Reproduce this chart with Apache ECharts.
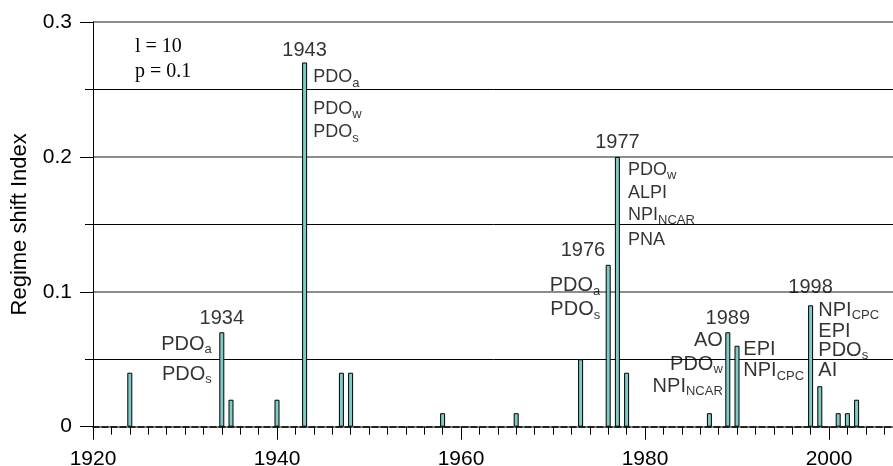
<!DOCTYPE html>
<html>
<head>
<meta charset="utf-8">
<script src="https://cdn.jsdelivr.net/npm/echarts@6/dist/echarts.min.js"></script>
<style>
html,body{margin:0;padding:0;background:#fff;}
#chart{width:893px;height:466px;}
</style>
</head>
<body>
<div id="chart"></div>
<script>
// ---- data ----
const years  = [1924, 1934, 1935, 1940, 1943, 1947, 1948, 1958, 1966, 1973, 1976, 1977, 1978, 1987, 1989, 1990, 1998, 1999, 2001, 2002, 2003];
const values = [0.04, 0.07, 0.02, 0.02, 0.27, 0.04, 0.04, 0.01, 0.01, 0.05, 0.12, 0.20, 0.04, 0.01, 0.07, 0.06, 0.09, 0.03, 0.01, 0.01, 0.02];
const yTicks = [0, 0.1, 0.2, 0.3];
const xTicks = [1920, 1940, 1960, 1980, 2000];
const yAxisTitle = 'Regime shift Index';
const paramText = ['l = 10', 'p = 0.1'];

// annotation texts: [main, subscript]
const notes1934 = [['PDO','a'], ['PDO','s']];
const notes1943 = [['PDO','a'], ['PDO','w'], ['PDO','s']];
const notes1976 = [['PDO','a'], ['PDO','s']];
const notes1977 = [['PDO','w'], ['ALPI',''], ['NPI','NCAR'], ['PNA','']];
const notes1989 = [['AO',''], ['PDO','w'], ['NPI','NCAR']];
const notes1990 = [['EPI',''], ['NPI','CPC']];
const notes1998 = [['NPI','CPC'], ['EPI',''], ['PDO','s'], ['AI','']];
const labeledYears = [1934, 1943, 1976, 1977, 1989, 1998];

// ---- layout (pixel offsets relative to bar tops) ----
function valOf(y){ return values[years.indexOf(y)]; }
const FONT = '"Liberation Sans", Arial, sans-serif';
function rich(fs){
  return {
    m:{fontSize:fs, fontFamily:FONT, color:'#000', lineHeight:24},
    s:{fontSize:13, fontFamily:FONT, color:'#000', lineHeight:10, verticalAlign:'bottom'}
  };
}
const annot = [];
function addText(year, txt, dx, dy, align, fs){
  annot.push({
    value:[year, valOf(year)],
    label:{show:true, position:[dx, dy], align:align, verticalAlign:'middle',
      formatter: txt, rich: rich(fs)}
  });
}
function addList(year, list, dx, dys, align, fs){
  list.forEach((n, i) => {
    const t = '{m|' + n[0] + '}' + (n[1] ? '{s|' + n[1] + '}' : '');
    addText(year, t, dx, dys[i], align, fs);
  });
}
const yearDy = {1934:-14, 1943:-11.5, 1976:-14, 1977:-14.4, 1989:-14, 1998:-17.8};
labeledYears.forEach(y => {
  if (y === 1976) addText(y, '{m|' + y + '}', -3, yearDy[y], 'right', 20);
  else addText(y, '{m|' + y + '}', 0, yearDy[y], 'center', 20);
});
addList(1934, notes1934, -10, [12, 42], 'right', 20);
addList(1943, notes1943, 8.7, [15, 46.5, 70], 'left', 18);
addList(1976, notes1976, -8, [21, 45], 'right', 20);
addList(1977, notes1977, 10.6, [13, 36.6, 58, 83], 'left', 18);
addList(1989, notes1989, -5, [8, 32, 54], 'right', 20);
addList(1990, notes1990, 6.3, [4, 25], 'left', 20);
addList(1998, notes1998, 7.7, [5, 26, 45, 65], 'left', 20);

const chart = echarts.init(document.getElementById('chart'), null, {renderer:'canvas'});
const option = {
  backgroundColor:'#fff',
  animation:false,
  grid:{left:93, top:22, width:809.6, height:404.7, containLabel:false, outerBoundsMode:'none'},
  xAxis:[{
    type:'value', min:1920, max:2008, interval:20,
    axisLine:{show:true, onZero:false, lineStyle:{color:'#000', width:1.5, type:[6,3]}},
    axisTick:{show:true, length:13, inside:false, lineStyle:{color:'#000', width:1}},
    axisLabel:{show:true, margin:22, fontSize:21, fontFamily:FONT, color:'#000',
      formatter: v => xTicks.indexOf(v) >= 0 ? String(v) : ''},
    splitLine:{show:false}
  },{
    type:'value', min:1920, max:2008, interval:2, position:'bottom',
    axisLine:{show:false},
    axisTick:{show:true, length:8, lineStyle:{color:'#000', width:1}},
    axisLabel:{show:false},
    splitLine:{show:false}
  }],
  yAxis:{
    type:'value', min:0, max:0.3, interval:0.1,
    name: yAxisTitle, nameLocation:'middle', nameGap:62, nameRotate:90,
    nameTextStyle:{fontSize:22, fontFamily:FONT, color:'#000'},
    axisLine:{show:true, lineStyle:{color:'#000', width:1}},
    axisTick:{show:true, length:13, lineStyle:{color:'#000', width:1}},
    minorTick:{show:true, splitNumber:2, length:8, lineStyle:{color:'#000', width:1}},
    axisLabel:{margin:21, fontSize:21, fontFamily:FONT, color:'#000',
      formatter: v => { const k = yTicks.findIndex(t => Math.abs(t - v) < 1e-9); return k >= 0 ? (yTicks[k] === 0 ? '0' : yTicks[k].toFixed(1)) : ''; }},
    splitLine:{show:true, lineStyle:{color:'#666', width:1.5}},
    minorSplitLine:{show:true, lineStyle:{color:'#000', width:1}}
  },
  series:[{
    type:'bar', xAxisIndex:0, barWidth:5,
    data: years.map((y, i) => [y, values[i]]),
    itemStyle:{color:'#7ecac5', borderColor:'#000', borderWidth:1},
    silent:true, z:3
  },{
    type:'scatter', xAxisIndex:0, symbolSize:0, silent:true, z:5,
    data: annot
  }],
  graphic:[
    {type:'text', x:135, y:47, style:{text:paramText[0], font:'20px "Liberation Serif", "Times New Roman", serif', fill:'#000', verticalAlign:'middle'}},
    {type:'text', x:135, y:72, style:{text:paramText[1], font:'20px "Liberation Serif", "Times New Roman", serif', fill:'#000', verticalAlign:'middle'}}
  ]
};
chart.setOption(option);
</script>
</body>
</html>
